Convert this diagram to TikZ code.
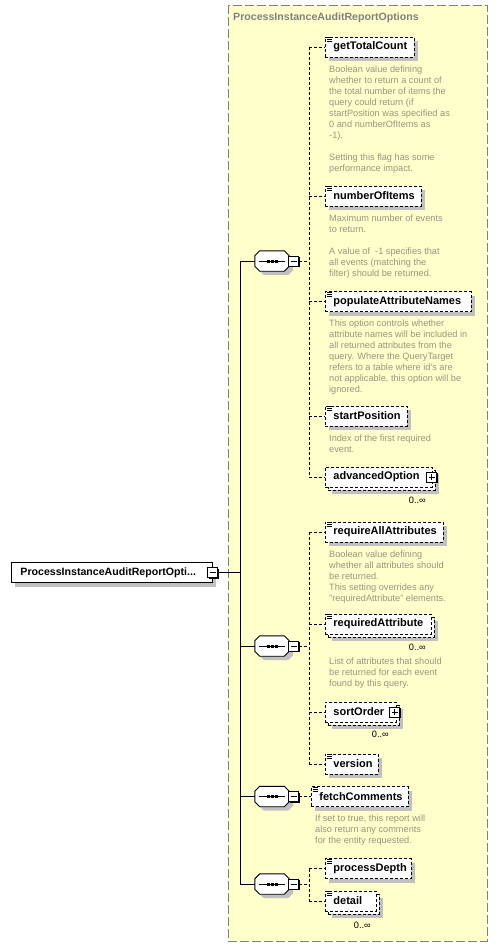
\documentclass[tikz,border=0pt]{standalone}
\usepackage{fontspec}
\setmainfont{Liberation Sans}
\usepackage{xcolor}
\usepackage{tikz}
\usetikzlibrary{positioning,shadows}

\definecolor{paleyellow}{RGB}{255,255,204}
\definecolor{framegray}{RGB}{128,128,128}
\definecolor{shadegray}{RGB}{192,192,192}
\definecolor{doctext}{RGB}{150,150,125}

\begin{document}
\begin{tikzpicture}[x=1pt, y=-1pt, node distance = 8pt]
    \tikzstyle{elem} = [draw, fill=white, line width=0.9pt, dash pattern=on 3pt off 2pt, anchor=west, align=left,
        minimum height=20pt, inner xsep=8pt, inner ysep=0pt, font=\fontsize{11}{13}\selectfont\bfseries,
        drop shadow={shadow xshift=4pt, shadow yshift=-4pt, fill=shadegray, opacity=1}]
    \tikzstyle{leaf} = [elem, path picture={
        \foreach \k in {0.6, 2.6, 4.6}
            \draw [solid, line width=0.8pt] ([xshift=2pt, yshift=-\k pt]path picture bounding box.north west) -- ++(5pt, 0);}]
    \tikzstyle{multi} = [drop shadow={shadow xshift=7pt, shadow yshift=-7pt, fill=shadegray, opacity=1},
        copy shadow={shadow xshift=3pt, shadow yshift=-3pt, fill=white, draw=black, opacity=1, line width=0.9pt, dash pattern=on 3pt off 2pt}]
    \tikzstyle{doc} = [font=\fontsize{9.2}{11}\selectfont, text=doctext, align=left, inner sep=0pt]
    \tikzstyle{occ} = [font=\fontsize{9.2}{11}\selectfont, inner sep=0pt, anchor=north east]
    \tikzstyle{seq} = [minimum width=34pt, minimum height=20pt, inner sep=0pt]
    \tikzstyle{octo} = [draw, fill=white, line width=0.9pt,
        drop shadow={shadow xshift=4pt, shadow yshift=-4pt, fill=shadegray, opacity=1}]
    \tikzstyle{minus} = [draw, fill=white, line width=0.9pt, minimum size=10pt, inner sep=0pt,
        drop shadow={shadow xshift=1pt, shadow yshift=-1pt, fill=black, opacity=1},
        path picture={\draw ([xshift=2pt]path picture bounding box.west) -- ([xshift=-2pt]path picture bounding box.east);}]
    \tikzstyle{plus} = [minus, path picture={
        \draw ([xshift=2pt]path picture bounding box.west) -- ([xshift=-2pt]path picture bounding box.east);
        \draw ([yshift=-2pt]path picture bounding box.north) -- ([yshift=2pt]path picture bounding box.south);}]
    \tikzstyle{link} = [line width=0.9pt, dash pattern=on 3pt off 2pt]
    \tikzstyle{wire} = [line width=0.9pt]

    \useasboundingbox (0, 0) rectangle (498, 948);

    % complex type frame
    \draw [fill=paleyellow, draw=framegray, line width=0.9pt, dash pattern=on 9pt off 3pt] (228, 5) rectangle (487, 941);
    \node [anchor=west, inner sep=0pt, text=framegray, font=\fontsize{10.6}{12}\selectfont\bfseries] (title) at (233, 17.5) {ProcessInstanceAuditReportOptions};

    % root element
    \node [draw, fill=white, line width=0.9pt, anchor=west, align=left, minimum height=20pt, inner xsep=9pt, inner ysep=0pt,
        text width=183pt, font=\fontsize{10.6}{13}\selectfont\bfseries,
        drop shadow={shadow xshift=4pt, shadow yshift=-4pt, fill=shadegray, opacity=1}] (root) at (11, 572.5) {ProcessInstanceAuditReportOpti...};
    \node [minus] (rootm) at (root.east) {};

    % sequences
    \node [seq] (s1) at (272, 261) {};
    \node [seq] (s2) at (272, 646) {};
    \node [seq] (s3) at (272, 796.5) {};
    \node [seq] (s4) at (272, 884) {};
    \foreach \i in {1, 2, 3, 4} {
        \draw [octo] ([xshift=5pt]s\i.north west) -- ([xshift=-5pt]s\i.north east) -- ([yshift=-5pt]s\i.north east)
            -- ([yshift=5pt]s\i.south east) -- ([xshift=-5pt]s\i.south east) -- ([xshift=5pt]s\i.south west)
            -- ([yshift=5pt]s\i.south west) -- ([yshift=-5pt]s\i.north west) -- cycle;
        \draw [line width=1pt] ([xshift=4pt]s\i.west) -- ([xshift=-4pt]s\i.east);
        \foreach \d in {-4, 0, 4}
            \fill ([xshift=\d pt]s\i.center) +(-1.5pt, -1.5pt) rectangle +(1.5pt, 1.5pt);
        \node [minus, right = -1pt of s\i] (s\i m) {};
    }

    % first sequence
    \node [leaf, text width=73pt] (gtc) at (325, 47) {getTotalCount};
    \node [doc, below = of gtc.south west, anchor=north west, xshift=4pt] (gtcdoc) {Boolean value defining\\whether to return a count of\\the total number of items the\\query could return (if\\startPosition was specified as\\0 and numberOfItems as\\-1).\\[11pt]Setting this flag has some\\performance impact.};
    \node [leaf, text width=80pt] (noi) at (325, 196) {numberOfItems};
    \node [doc, below = of noi.south west, anchor=north west, xshift=4pt] (noidoc) {Maximum number of events\\to return.\\[11pt]A value of \ -1 specifies that\\all events (matching the\\filter) should be returned.};
    \node [leaf, text width=130pt] (pan) at (325, 301.5) {populateAttributeNames};
    \node [doc, below = of pan.south west, anchor=north west, xshift=4pt] (pandoc) {This option controls whether\\attribute names will be included in\\all returned attributes from the\\query. Where the QueryTarget\\refers to a table where id's are\\not applicable, this option will be\\ignored.};
    \node [leaf, text width=66pt] (sp) at (325, 416) {startPosition};
    \node [doc, below = of sp.south west, anchor=north west, xshift=4pt] (spdoc) {Index of the first required\\event.};
    \node [elem, multi, text width=91pt] (ao) at (325, 477) {advancedOption};
    \node [plus] (aop) at ([xshift=-1pt]ao.east) {};
    \node [occ] (aoocc) at ([xshift=-7pt, yshift=-9pt]ao.south east) {0..∞};

    % second sequence
    \node [leaf, text width=102pt] (raa) at (325, 532) {requireAllAttributes};
    \node [doc, below = of raa.south west, anchor=north west, xshift=4pt] (raadoc) {Boolean value defining\\whether all attributes should\\be returned.\\This setting overrides any\\"requiredAttribute" elements.};
    \node [leaf, multi, text width=90pt] (ra) at (325, 624) {requiredAttribute};
    \node [occ] (raocc) at ([xshift=-6pt, yshift=-9pt]ra.south east) {0..∞};
    \node [doc, below = 23pt of ra.south west, anchor=north west, xshift=4pt] (radoc) {List of attributes that should\\be returned for each event\\found by this query.};
    \node [elem, multi, text width=55pt] (so) at (325, 712) {sortOrder};
    \node [plus] (sop) at ([xshift=-2pt]so.east) {};
    \node [occ] (soocc) at ([xshift=-8pt, yshift=-8pt]so.south east) {0..∞};
    \node [leaf, text width=37pt] (ver) at (325, 764) {version};

    % third sequence
    \node [leaf, text width=81pt] (fc) at (311, 796.5) {fetchComments};
    \node [doc, below = of fc.south west, anchor=north west, xshift=4pt] (fcdoc) {If set to true, this report will\\also return any comments\\for the entity requested.};

    % fourth sequence
    \node [leaf, text width=70pt] (pd) at (325, 868.5) {processDepth};
    \node [leaf, multi, text width=35pt] (det) at (325, 901) {detail};
    \node [occ] (detocc) at ([xshift=-6pt, yshift=-10pt]det.south east) {0..∞};

    % trunk
    \coordinate (trunk) at (240, 572.5);
    \draw [wire] (rootm.east) -- (trunk);
    \draw [wire] (s1.west -| trunk) -- (s4.west -| trunk);
    \foreach \i in {1, 2, 3, 4}
        \draw [wire] (s\i.west -| trunk) -- (s\i.west);

    % branches
    \coordinate (b1) at (309, 261);
    \coordinate (b2) at (309, 646);
    \coordinate (b4) at (309, 884);
    \draw [link] (s1m.east) -- (b1);
    \draw [link] (b1 |- gtc.west) -- (b1 |- ao.west);
    \foreach \n in {gtc, noi, pan, sp, ao}
        \draw [link] (b1 |- \n.west) -- (\n.west);
    \draw [link] (s2m.east) -- (b2);
    \draw [link] (b2 |- raa.west) -- (b2 |- ver.west);
    \foreach \n in {raa, ra, so, ver}
        \draw [link] (b2 |- \n.west) -- (\n.west);
    \draw [link] (s3m.east) -- (fc.west);
    \draw [link] (s4m.east) -- (b4);
    \draw [link] (b4 |- pd.west) -- (b4 |- det.west);
    \foreach \n in {pd, det}
        \draw [link] (b4 |- \n.west) -- (\n.west);
\end{tikzpicture}
\end{document}
